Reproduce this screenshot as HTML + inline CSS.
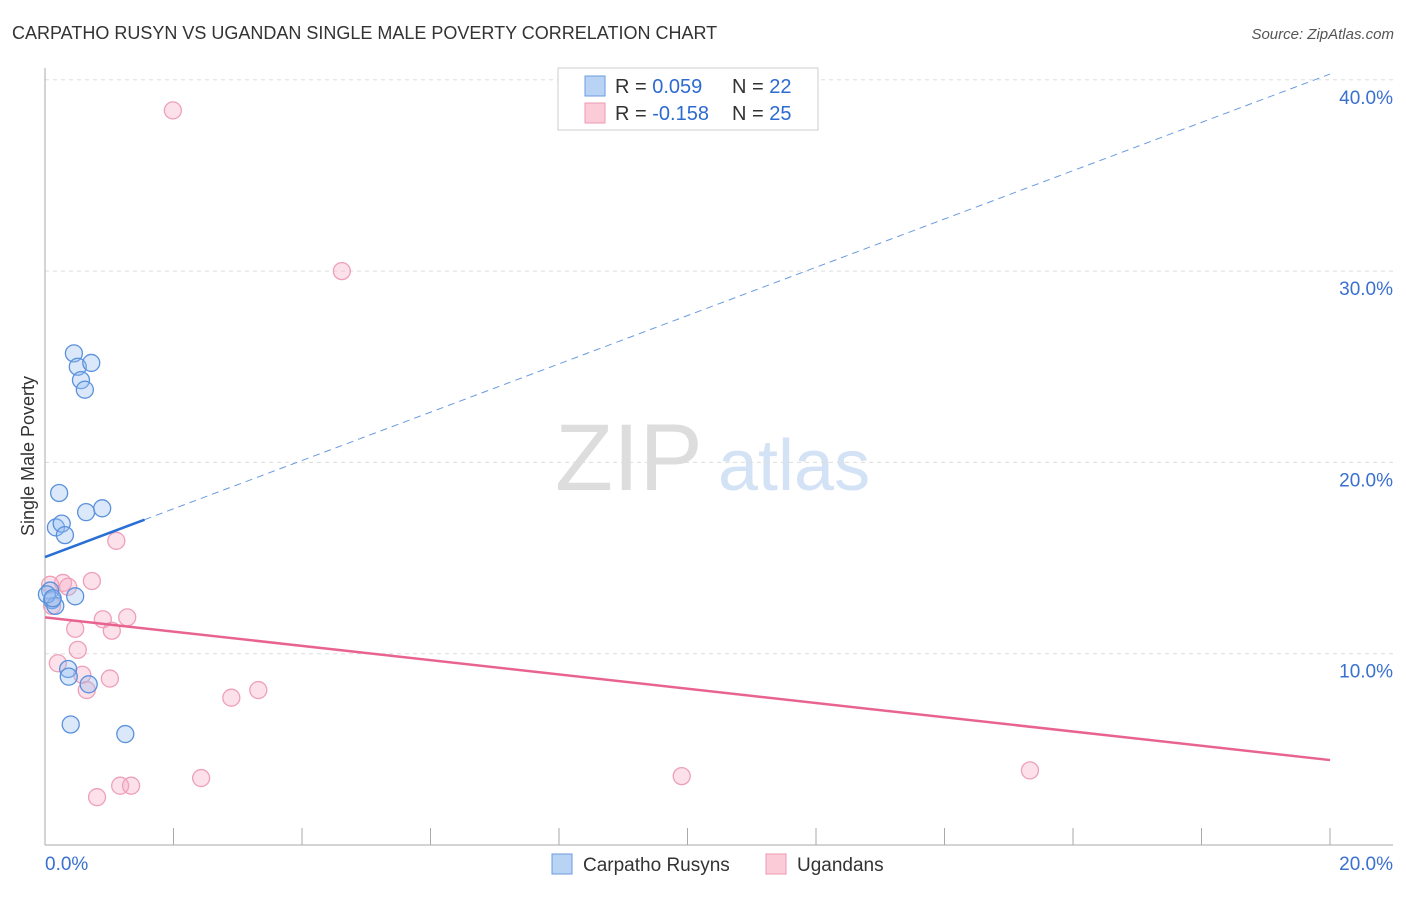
<!DOCTYPE html><html><head><meta charset="utf-8"><style>
body{margin:0;background:#fff;font-family:"Liberation Sans",sans-serif}
svg text{font-family:"Liberation Sans",sans-serif}
</style></head><body>
<svg id="c" width="1406" height="892">
<text x="12" y="39" font-size="18" fill="#333">CARPATHO RUSYN VS UGANDAN SINGLE MALE POVERTY CORRELATION CHART</text>
<text x="1394" y="39" font-size="15" fill="#555" text-anchor="end" font-style="italic">Source: ZipAtlas.com</text>
<text x="555" y="490" font-size="95" fill="#ddd" font-family="Liberation Serif">ZIP</text>
<text x="718" y="490" font-size="72" fill="#d3e2f5">atlas</text>
<text transform="translate(34,456) rotate(-90)" font-size="18" fill="#333" text-anchor="middle">Single Male Poverty</text>
<g id="grid"></g><g id="pts"></g><g id="lines"></g>
<g>
<rect x="558" y="68" width="260" height="62" fill="#fff" stroke="#ccc"/>
<rect x="585" y="76" width="20" height="20" fill="#b9d3f5" stroke="#6a9be0"/>
<rect x="585" y="103" width="20" height="20" fill="#fbcbd8" stroke="#ee99b3"/>
<text x="615" y="93" font-size="20" fill="#333">R = <tspan fill="#2d6bd1">0.059</tspan></text>
<text x="732" y="93" font-size="20" fill="#333">N = <tspan fill="#2d6bd1">22</tspan></text>
<text x="615" y="120" font-size="20" fill="#333">R = <tspan fill="#2d6bd1">-0.158</tspan></text>
<text x="732" y="120" font-size="20" fill="#333">N = <tspan fill="#2d6bd1">25</tspan></text>
</g>
<g>
<rect x="552" y="854" width="20" height="20" fill="#b9d3f5" stroke="#6a9be0"/>
<text x="583" y="871" font-size="19" fill="#333">Carpatho Rusyns</text>
<rect x="766" y="854" width="20" height="20" fill="#fbcbd8" stroke="#ee99b3"/>
<text x="797" y="871" font-size="19" fill="#333">Ugandans</text>
</g>
</svg>
<script>
const yTicks=[10,20,30,40];
const xTickLabels=["0.0%","20.0%"];
const blueX=[0.45,0.51,0.72,0.56,0.62,0.22,0.17,0.26,0.31,0.64,0.89,0.08,0.11,0.47,0.16,0.36,0.37,0.68,0.40,1.25,0.03,0.12];
const blueY=[25.7,25.0,25.2,24.3,23.8,18.4,16.6,16.8,16.2,17.4,17.6,13.3,12.8,13.0,12.5,9.2,8.8,8.4,6.3,5.8,13.1,12.9];
const pinkX=[1.99,4.62,1.11,0.73,0.28,0.36,0.08,1.28,0.90,1.04,0.47,0.51,0.20,0.58,1.01,0.65,2.90,3.32,2.43,1.17,1.34,0.81,9.91,15.33,0.11];
const pinkY=[38.4,30.0,15.9,13.8,13.7,13.5,13.6,11.9,11.8,11.2,11.3,10.2,9.5,8.9,8.7,8.1,7.7,8.1,3.5,3.1,3.1,2.5,3.6,3.9,12.5];
const blueTrend=[15.05,40.3];
const pinkTrend=[11.9,4.44];
const NS="http://www.w3.org/2000/svg";
const X=v=>45+v/20*1285, Y=v=>845-v*19.13;
function mk(t,a,p){const e=document.createElementNS(NS,t);for(const k in a)e.setAttribute(k,a[k]);p.appendChild(e);return e;}
const g=document.getElementById('grid');
yTicks.forEach(t=>{
 const l=mk('line',{x1:45,x2:1393,y1:Y(t),y2:Y(t),stroke:'#ddd','stroke-dasharray':'4,4'},g);
 
 
 const tx=mk('text',{x:1393,y:Y(t)+24,'font-size':19,fill:'#3a70d0','text-anchor':'end'},g);
 tx.textContent=t.toFixed(1)+'%';
 
 
});
mk('line',{x1:45,x2:45,y1:68,y2:845,stroke:'#aaa'},g);
mk('line',{x1:45,x2:1393,y1:845,y2:845,stroke:'#aaa'},g);
for(let i=0;i<=10;i++){const t=mk('line',{x1:X(i*2),x2:X(i*2),y1:828,y2:845,stroke:'#aaa'},g);
 
 }
const a=mk('text',{x:45,y:870,'font-size':19,fill:'#3a70d0'},g);a.textContent=xTickLabels[0];


const b=mk('text',{x:1393,y:870,'font-size':19,fill:'#3a70d0','text-anchor':'end'},g);b.textContent=xTickLabels[1];


const P=document.getElementById('pts');
pinkX.forEach((x,i)=>{const c=mk('circle',{cx:X(x),cy:Y(pinkY[i]),r:8.5,fill:'rgba(246,170,194,0.35)',stroke:'#eea0b8','stroke-width':1.3},P);
 
 });
blueX.forEach((x,i)=>{const c=mk('circle',{cx:X(x),cy:Y(blueY[i]),r:8.5,fill:'rgba(150,190,240,0.35)',stroke:'#5b91dc','stroke-width':1.3},P);
 
 });
const L=document.getElementById('lines');
const bAt=v=>blueTrend[0]+(blueTrend[1]-blueTrend[0])*v/20;
const l1=mk('line',{x1:X(0),y1:Y(bAt(0)),x2:X(1.55),y2:Y(bAt(1.55)),stroke:'#2a6fd6','stroke-width':2.5},L);


const l2=mk('line',{x1:X(1.55),y1:Y(bAt(1.55)),x2:X(20),y2:Y(bAt(20)),stroke:'#6a9be0','stroke-width':1,'stroke-dasharray':'7,5'},L);


const l3=mk('line',{x1:X(0),y1:Y(pinkTrend[0]),x2:X(20),y2:Y(pinkTrend[1]),stroke:'#e8648f','stroke-width':2.5},L);


</script>
</body></html>
